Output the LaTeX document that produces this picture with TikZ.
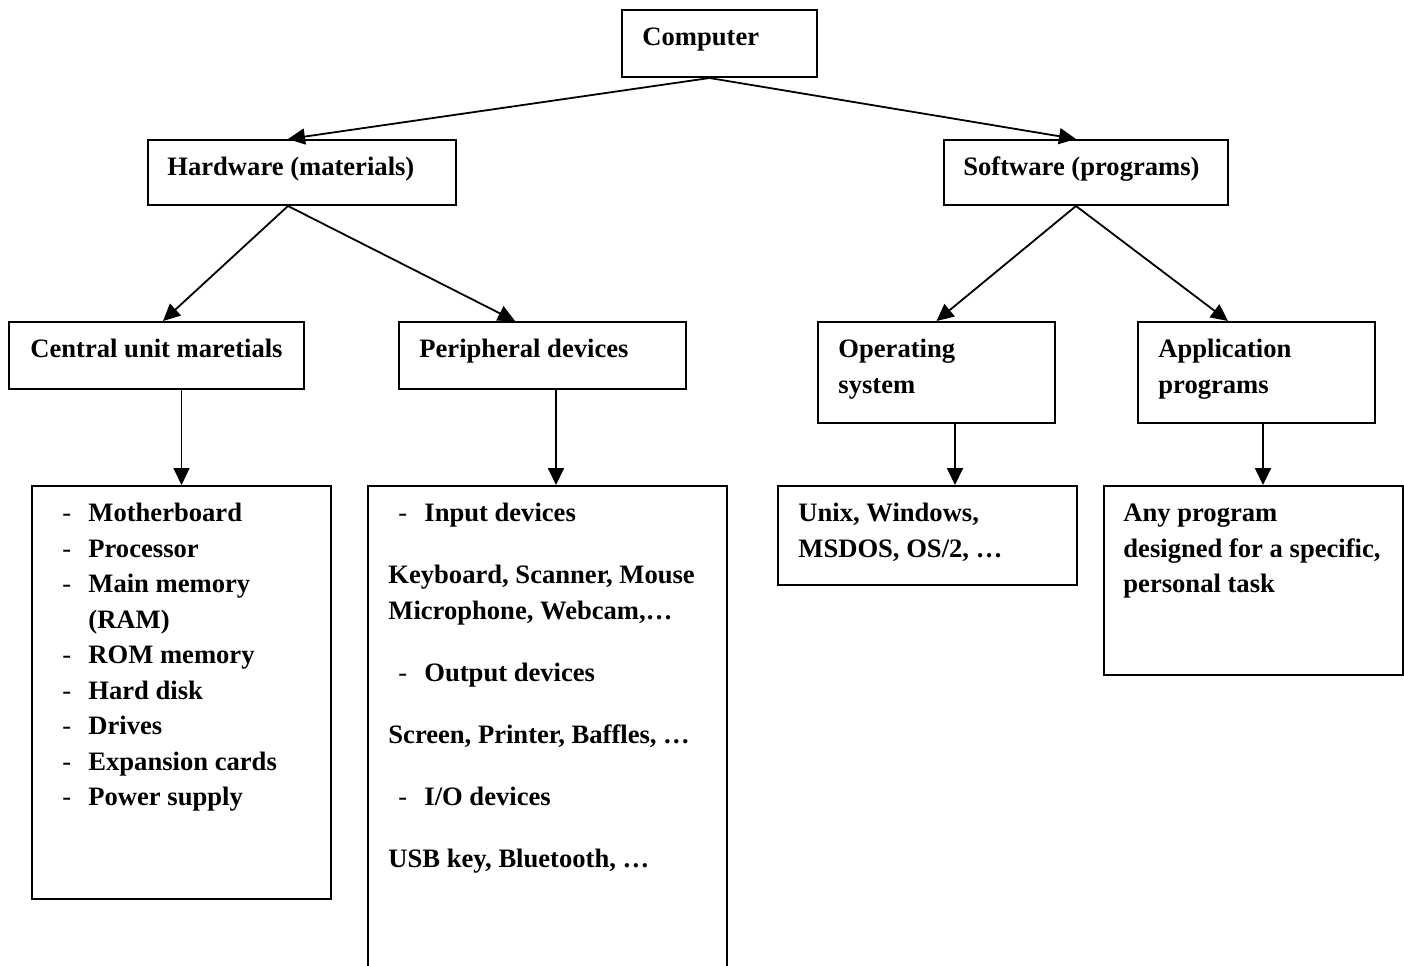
\documentclass[tikz,border=0pt]{standalone}
\usepackage{fontspec}
\setmainfont{Liberation Serif}
\usetikzlibrary{arrows.meta,calc}

\newcommand{\itemdash}{\makebox[13pt][l]{\mdseries -}}

\begin{document}
\begin{tikzpicture}[x=0.5pt,y=-0.5pt,
    box/.style={draw,line width=1pt,anchor=north west,inner sep=0pt},
    txt/.style={anchor=north west,inner sep=0pt,align=left,
        font=\fontsize{13.3pt}{17.75pt}\selectfont\bfseries},
    arr/.style={-{Triangle[length=8.5pt,width=8pt]},line width=0.9pt}]
    \path[use as bounding box,clip] (0,0) rectangle (1404,965);

    % boxes
    \node[box,minimum width=97.5pt,minimum height=33.5pt]  (comp)  at (621,9)   {};
    \node[box,minimum width=154pt,minimum height=32.5pt]   (hard)  at (147,139) {};
    \node[box,minimum width=142pt,minimum height=32.5pt]   (soft)  at (943,139) {};
    \node[box,minimum width=147.5pt,minimum height=33.5pt] (cent)  at (8,321)   {};
    \node[box,minimum width=143.5pt,minimum height=33.5pt] (peri)  at (398,321) {};
    \node[box,minimum width=118.5pt,minimum height=50.5pt] (opsys) at (817,321) {};
    \node[box,minimum width=118.5pt,minimum height=50.5pt] (appl)  at (1137,321) {};
    \node[box,minimum width=149.5pt,minimum height=206.5pt] (cul)  at (31,485)  {};
    \node[box,minimum width=179.5pt,minimum height=245pt]  (pdl)   at (367,485) {};
    \node[box,minimum width=149.5pt,minimum height=49.5pt] (unix)  at (777,485) {};
    \node[box,minimum width=149.5pt,minimum height=94.5pt] (anyp)  at (1103,485) {};

    % texts
    \node[txt] (comp-t)  at (642,20.6)   {\strut Computer};
    \node[txt] (hard-t)  at (167,150.6)  {\strut Hardware (materials)};
    \node[txt] (soft-t)  at (963,150.6)  {\strut Software (programs)};
    \node[txt] (cent-t)  at (30,332.6)   {\strut Central unit maretials};
    \node[txt] (peri-t)  at (419,332.6)  {\strut Peripheral devices};
    \node[txt] (opsys-t) at (838,332.6)  {\strut Operating\\system};
    \node[txt] (appl-t)  at (1158,332.6) {\strut Application\\programs};
    \node[txt] (cul-t)   at (62,496.6)   {\strut\itemdash Motherboard\\
        \itemdash Processor\\
        \itemdash Main memory\\
        \hspace*{13pt}(RAM)\\
        \itemdash ROM memory\\
        \itemdash Hard disk\\
        \itemdash Drives\\
        \itemdash Expansion cards\\
        \itemdash Power supply};
    \node[txt] (pdl-t)   at (388,496.6)  {\strut\hspace*{5pt}\itemdash Input devices\\[13.25pt]
        Keyboard, Scanner, Mouse\\
        Microphone, Webcam,…\\[13.25pt]
        \hspace*{5pt}\itemdash Output devices\\[13.25pt]
        Screen, Printer, Baffles, …\\[13.25pt]
        \hspace*{5pt}\itemdash I/O devices\\[13.25pt]
        USB key, Bluetooth, …};
    \node[txt] (unix-t)  at (798,496.6)  {\strut Unix, Windows,\\MSDOS, OS/2, …};
    \node[txt] (anyp-t)  at (1123,496.6) {\strut Any program\\designed for a specific,\\personal task};

    % connectors
    \draw[arr] ($(comp.south)+(-10,0)$) -- ($(hard.north)+(-14,0)$);
    \draw[arr] ($(comp.south)+(-10,0)$) -- ($(soft.north)+(-10,0)$);
    \draw[arr] ($(hard.south)+(-14,0)$) -- ($(cent.north)+(6.5,0)$);
    \draw[arr] ($(hard.south)+(-14,0)$) -- ($(peri.north)+(-27.5,0)$);
    \draw[arr] ($(soft.south)+(-10,0)$) -- (opsys.north);
    \draw[arr] ($(soft.south)+(-10,0)$) -- ($(appl.north)+(-28.5,0)$);
    \draw[arr] ($(cent.south)+(25,0)$) -- (cul.north);
    \draw[arr] ($(peri.south)+(13.5,0)$) -- ($(pdl.north)+(8.5,0)$);
    \draw[arr] ($(opsys.south)+(18.5,0)$) -- ($(unix.north)+(27.5,0)$);
    \draw[arr] ($(appl.south)+(6.5,0)$) -- ($(anyp.north)+(9.5,0)$);
\end{tikzpicture}
\end{document}
